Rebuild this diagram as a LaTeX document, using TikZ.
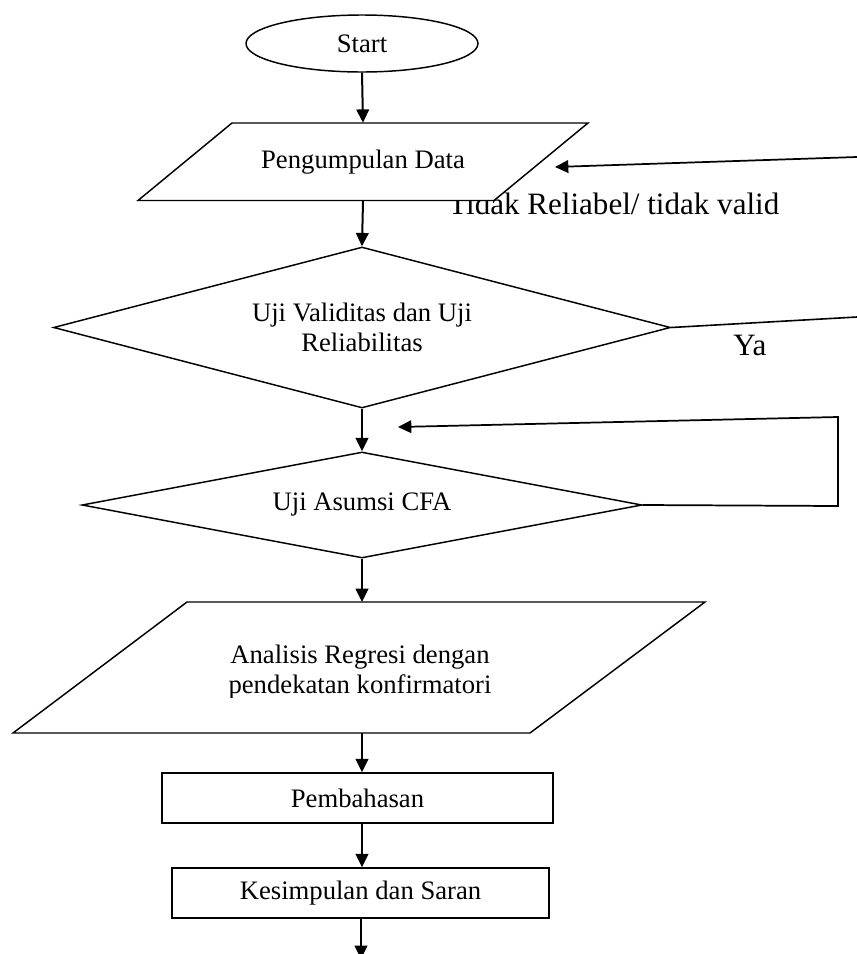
\documentclass[tikz,border=0pt]{standalone}
\usepackage{fontspec}
\setmainfont{Liberation Serif}
\usetikzlibrary{shapes.geometric,arrows.meta}
\newcommand{\pxu}{0.75pt}

\tikzset{
  outline/.style={draw=black, line width=1.1pt, fill=white},
  flowbase/.style={outline, inner sep=0pt, font=\fontsize{20}{23}\selectfont, align=center},
  terminal/.style={flowbase, ellipse},
  decision/.style={flowbase, diamond},
  process/.style={flowbase, rectangle},
  boxtext/.style={inner sep=0pt, font=\fontsize{20}{23}\selectfont, align=center},
  flowarrow/.style={line width=1.5pt, -{Triangle[length=10pt,width=9.5pt]}},
  backarrow/.style={line width=1.3pt, -{Triangle[length=10pt,width=9.5pt]}},
  flowline/.style={line width=1.2pt},
  sidelabel/.style={font=\fontsize{23.3}{27}\selectfont, inner sep=0pt, anchor=base west}
}

\begin{document}
\begin{tikzpicture}[x=0.75pt,y=-0.75pt]
        \useasboundingbox (0,0) rectangle (857,954);

        %%LABELS (under the data box)
        \node[sidelabel] (tidakLabel) at (448,214) {Tidak Reliabel/ tidak valid};
        \node[sidelabel] (yaLabel) at (733,355) {Ya};

        %%SHAPES
        % Start
        \node[terminal, minimum width=232*\pxu, minimum height=57*\pxu] (start) at (362,43.5) {Start};
        % Data
        \path[outline] (232,123) -- (588,123) -- (494,200.5) -- (138,200.5) -- cycle;
        \node[boxtext, minimum height=77.5*\pxu] (kumpul) at (363,161.75) {Pengumpulan Data};
        % Validity test
        \node[decision, aspect=3.8, minimum width=617*\pxu, minimum height=161*\pxu] (valid) at (362,327.5) {Uji Validitas dan Uji\\Reliabilitas};
        % CFA
        \node[decision, aspect=5.3, minimum width=560*\pxu, minimum height=106*\pxu] (cfa) at (362,505) {Uji Asumsi CFA};
        % Regression
        \coordinate (regresiTL) at (187,602);
        \coordinate (regresiTR) at (705,602);
        \coordinate (regresiBR) at (530,733);
        \coordinate (regresiBL) at (13,733);
        \path[outline] (regresiTL) -- (regresiTR) -- (regresiBR) -- (regresiBL) -- cycle;
        \begin{scope}
          \clip (0,600) rectangle (857,697);
          \node[boxtext] (regresi) at (360,672) {Analisis Regresi dengan\\pendekatan konfirmatori};
        \end{scope}
        % Discussion
        \node[process, minimum width=391*\pxu, minimum height=50*\pxu] (bahas) at (357.5,798) {Pembahasan};
        % Conclusion
        \node[process, minimum width=377*\pxu, minimum height=50*\pxu] (simpul) at (360.5,893) {Kesimpulan dan Saran};

        %%FREE ENDS
        \coordinate (tidakStart) at (857,157);
        \coordinate (tidakTip) at (555,167);
        \coordinate (yaEnd) at (857,317);
        \coordinate (loopRight) at (838,506);
        \coordinate (loopTop) at (838,417);
        \coordinate (loopTip) at (398,427);
        \coordinate (finish) at (361,959);

        %%ARROWS
        \draw[flowarrow] (start.south) -- (kumpul.north);
        \draw[flowarrow] (kumpul.south) -- (valid.north);
        \draw[flowarrow] (valid.south) -- (cfa.north);
        \draw[flowarrow] (cfa.south) -- (cfa.south |- regresiTL);
        \draw[flowarrow] (regresiBL -| cfa.south) -- (bahas.north -| cfa.south);
        \draw[flowarrow] (bahas.south -| cfa.south) -- (simpul.north -| cfa.south);
        \draw[flowarrow] (simpul.south -| finish) -- (finish);

        % Not reliable / not valid
        \draw[backarrow] (tidakStart) -- (tidakTip);
        % Yes
        \draw[flowline] (valid.east) -- (yaEnd);
        % CFA loop
        \draw[backarrow] (cfa.east) -- (loopRight) -- (loopTop) -- (loopTip);

\end{tikzpicture}
\end{document}
